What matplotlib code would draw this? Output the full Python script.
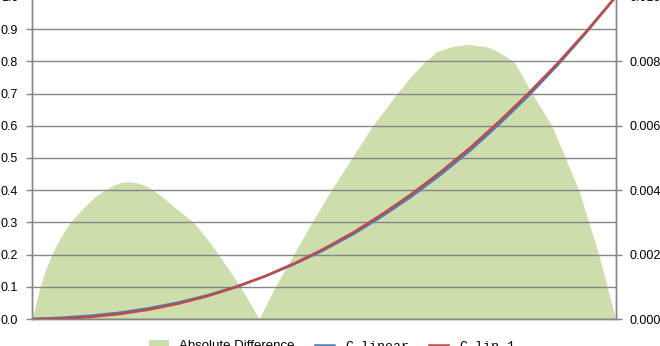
import matplotlib.pyplot as plt
from matplotlib.ticker import FixedLocator

# curves (input value 0..1)
t_vals = [0.0, 0.05, 0.1, 0.15, 0.2, 0.25, 0.3, 0.35, 0.4, 0.45, 0.5,
          0.55, 0.6, 0.65, 0.7, 0.75, 0.8, 0.85, 0.9, 0.95, 1.0]
c_linear = [0.0, 0.0039, 0.010, 0.0196, 0.0331, 0.0509, 0.0732, 0.1005,
            0.133, 0.171, 0.214, 0.263, 0.319, 0.380, 0.448, 0.522,
            0.604, 0.692, 0.787, 0.890, 1.0]
c_lin_1 = [0.0, 0.0013, 0.0063, 0.0154, 0.029, 0.0474, 0.0707, 0.0993,
           0.1334, 0.1731, 0.2177, 0.2682, 0.3254, 0.3875, 0.4563, 0.5305,
           0.6123, 0.6994, 0.7925, 0.8931, 1.0]

# absolute difference (right axis)
diff_t = [0.0, 0.0137, 0.0223, 0.0338, 0.048, 0.0652, 0.0909, 0.108, 0.1252,
          0.1395, 0.1508, 0.1652, 0.18, 0.1938, 0.2081, 0.2228, 0.2424,
          0.2767, 0.2996, 0.3196, 0.3396, 0.3568, 0.374, 0.389,
          0.4168, 0.4482, 0.4797, 0.5129, 0.5483, 0.5838, 0.6255, 0.6478,
          0.6741, 0.6941, 0.7164, 0.7484, 0.7798, 0.794, 0.8256, 0.8415,
          0.857, 0.891, 0.9142, 0.937, 0.9542, 0.9714, 0.9857, 1.0]
abs_diff = [0.0, 0.0010, 0.00147, 0.0020, 0.0025, 0.0030, 0.0035, 0.0038,
            0.0040, 0.00415, 0.00423, 0.004265, 0.00423, 0.00415, 0.0040,
            0.0038, 0.0035, 0.0030, 0.0025, 0.0020, 0.00147, 0.0010,
            0.00048, 0.0,
            0.0010, 0.0020, 0.0030, 0.0040, 0.0050, 0.0060, 0.0070, 0.0075,
            0.0080, 0.0083, 0.00845, 0.00853, 0.00845, 0.00835, 0.0080,
            0.0075, 0.0070, 0.0060, 0.0050, 0.0040, 0.0030, 0.0020, 0.0010,
            0.0]

left_ticks = [0.0, 0.1, 0.2, 0.3, 0.4, 0.5, 0.6, 0.7, 0.8, 0.9, 1.0]
right_ticks = [0.0, 0.002, 0.004, 0.006, 0.008, 0.010]

grey = '#868686'
plt.rcParams['font.family'] = ['Liberation Sans', 'DejaVu Sans']

fig = plt.figure(figsize=(6.6, 3.46), dpi=100)
ax1 = fig.add_axes([32 / 660, 1 - 319 / 346, 583.5 / 660, 322 / 346])
ax2 = ax1.twinx()

area = ax2.fill_between(diff_t, abs_diff, 0, color='#cdddac', lw=0,
                        label='Absolute Difference')
l1, = ax1.plot(t_vals, c_linear, color='#4a7ebb', lw=1.8, label='C_linear')
l2, = ax1.plot(t_vals, c_lin_1, color='#be4b48', lw=1.8, label='C_lin_1')

ax1.set_zorder(ax2.get_zorder() + 1)
ax1.patch.set_visible(False)

ax1.set_xlim(0, 1)
ax1.set_ylim(0, 1.0)
ax2.set_ylim(0, 0.010)

ax1.yaxis.set_major_locator(FixedLocator(left_ticks))
ax1.set_yticklabels(['%.1f' % v for v in left_ticks])
ax2.yaxis.set_major_locator(FixedLocator(right_ticks))
ax2.set_yticklabels(['%.3f' % v for v in right_ticks])
ax1.set_xticks([])
ax1.grid(axis='y', color=grey, lw=1.0)

for ax in (ax1, ax2):
    ax.spines['top'].set_visible(False)
    for side in ('left', 'right', 'bottom'):
        ax.spines[side].set_color(grey)
        ax.spines[side].set_linewidth(1.0)
ax1.tick_params(axis='y', colors=grey, length=4, width=1.0, pad=6,
                labelcolor='black', labelsize=9)
ax2.tick_params(axis='y', colors=grey, length=4, width=1.0, pad=6,
                labelcolor='black', labelsize=9)

leg = fig.legend([area, l1, l2], ['Absolute Difference', 'C_linear', 'C_lin_1'],
                 loc='center', bbox_to_anchor=(0.503, 0.0), ncol=3,
                 frameon=False, fontsize=9.5, handlelength=1.5,
                 columnspacing=1.5, handletextpad=0.8)
for txt in leg.get_texts()[1:]:
    txt.set_family(['Liberation Mono', 'DejaVu Sans Mono'])

fig.savefig('out.png', dpi=100)
